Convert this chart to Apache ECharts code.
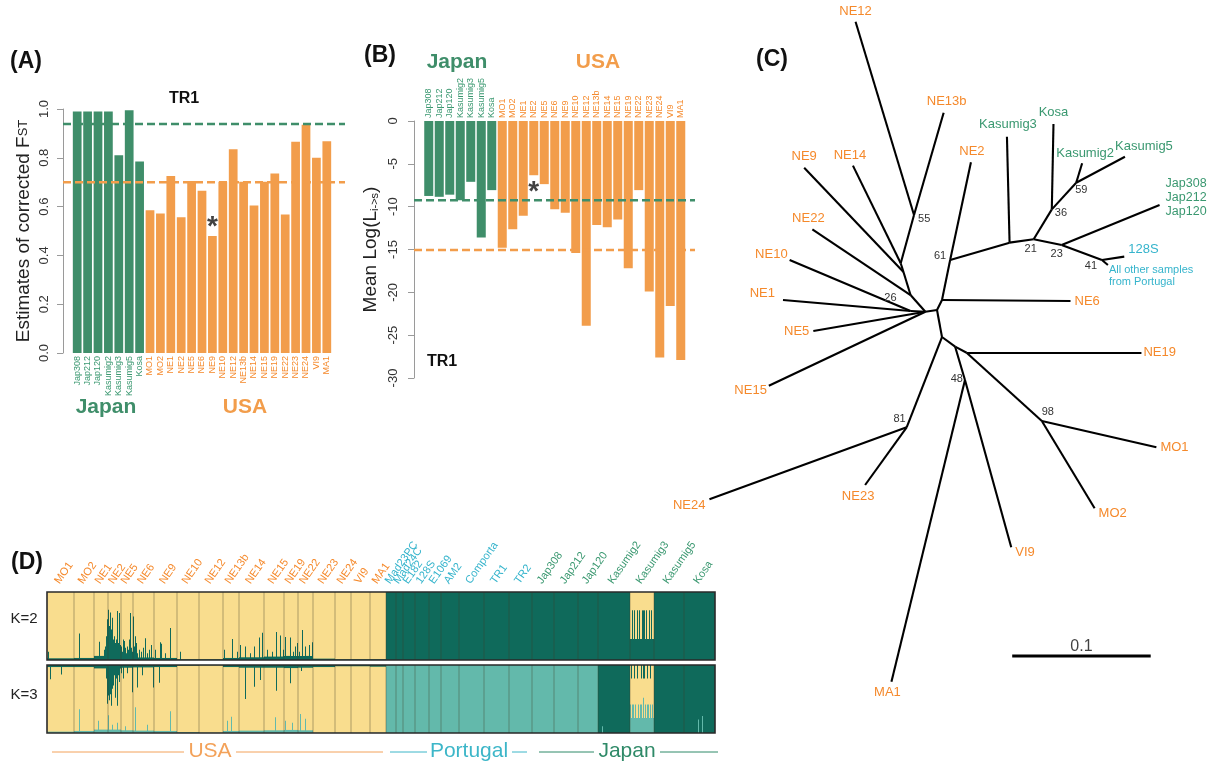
<!DOCTYPE html>
<html><head><meta charset="utf-8">
<script src="https://cdn.jsdelivr.net/npm/echarts@6/dist/echarts.min.js"></script>
<style>html,body{margin:0;padding:0;background:#fff}#c{width:1214px;height:762px}</style>
</head><body><div id="c"></div><script>
// ================= DATA =================
// Panels A & B: samples
const samples = ['Jap308','Jap212','Jap120','Kasumig2','Kasumig3','Kasumig5','Kosa','MO1','MO2','NE1','NE2','NE5','NE6','NE9','NE10','NE12','NE13b','NE14','NE15','NE19','NE22','NE23','NE24','VI9','MA1'];
const sampleRegion = ['Japan','Japan','Japan','Japan','Japan','Japan','Japan','USA','USA','USA','USA','USA','USA','USA','USA','USA','USA','USA','USA','USA','USA','USA','USA','USA','USA'];
const fstValues = [0.99,0.99,0.99,0.99,0.81,0.995,0.785,0.585,0.572,0.725,0.556,0.705,0.665,0.48,0.702,0.835,0.702,0.605,0.702,0.736,0.568,0.866,0.935,0.80,0.868];
const fstThreshold = {Japan:0.939, USA:0.70};
const fstStar = ['NE9', 0.54];
const logLValues = [-8.75,-8.85,-8.6,-9.25,-7.1,-13.6,-8.07,-14.8,-12.65,-11.05,-6.33,-7.37,-10.3,-10.7,-15.4,-23.9,-12.15,-12.4,-11.5,-17.2,-8.07,-19.9,-27.6,-21.6,-27.9];
const logLThreshold = {Japan:-9.24, USA:-15.06};
const logLStar = ['NE2', -7.67];
const fstTicks = [0,0.2,0.4,0.6,0.8,1.0];
const logLTicks = [0,-5,-10,-15,-20,-25,-30];

// Panel C: unrooted tree (node positions in branch-length units)
const treeNodes = [
 ['NE12',-0.0588,0.2059],['NE13b',0.0048,0.1409],['NE14',-0.0607,0.1031],['NE9',-0.0959,0.1016],
 ['NE22',-0.0900,0.0576],['NE10',-0.1064,0.0357],['NE1',-0.1112,0.0071],['NE5',-0.0893,-0.0150],
 ['NE15',-0.1214,-0.0541],['NE24',-0.1643,-0.1352],['NE23',-0.0519,-0.1250],['MA1',-0.0329,-0.2655],
 ['VI9',0.0536,-0.1695],['MO2',0.1138,-0.1416],['MO1',0.1584,-0.0981],['NE19',0.1476,-0.0305],
 ['NE6',0.0964,0.0064],['NE2',0.0245,0.1055],['Kasumig3',0.0505,0.1238],['Kosa',0.0841,0.1329],
 ['Kasumig2',0.1048,0.1048],['Kasumig5',0.1357,0.1095],['Jap',0.1607,0.0750],['128S',0.1352,0.0381],
 ['Portugal',0.1234,0.0321],
 ['n55',-0.0166,0.0679],['nA',-0.0262,0.0334],['nA2',-0.0242,0.0271],['nB',-0.0191,0.0107],
 ['n26',-0.0191,-0.0007],['nC',-0.0084,-0.0012],['nD',0,0],['nE',0.0036,0.0071],['n61',0.0095,0.0357],
 ['nK3',0.0524,0.0481],['n21',0.0698,0.0505],['n36',0.0829,0.0719],['n59',0.1005,0.0909],
 ['n23',0.0900,0.0464],['n41',0.1191,0.0357],['nF',0.0036,-0.0193],['nG',0.0131,-0.0262],
 ['nH',0.0214,-0.0305],['n98',0.0757,-0.0793],['n48',0.0202,-0.0500],['n81',-0.0219,-0.0838]
];
const treeEdges = [
 ['n55','NE12'],['n55','NE13b'],['nA','n55'],['nA','NE14'],['nA2','nA'],['nA2','NE9'],
 ['nB','nA2'],['nB','NE22'],['nC','nB'],['n26','NE10'],['n26','NE1'],['nC','n26'],['nC','NE5'],['nC','NE15'],
 ['nD','nC'],['nD','nE'],['nE','NE6'],['nE','n61'],['n61','NE2'],['n61','nK3'],['nK3','Kasumig3'],['nK3','n21'],
 ['n21','n36'],['n36','Kosa'],['n36','n59'],['n59','Kasumig2'],['n59','Kasumig5'],['n21','n23'],['n23','Jap'],
 ['n23','n41'],['n41','128S'],['n41','Portugal'],
 ['nD','nF'],['nF','n81'],['n81','NE24'],['n81','NE23'],['nF','nG'],['nG','nH'],['nH','NE19'],['nH','n98'],
 ['n98','MO1'],['n98','MO2'],['nG','n48'],['n48','MA1'],['n48','VI9']
];
const tipText = {NE12:'NE12',NE13b:'NE13b',NE14:'NE14',NE9:'NE9',NE22:'NE22',NE10:'NE10',NE1:'NE1',NE5:'NE5',NE15:'NE15',
 NE24:'NE24',NE23:'NE23',MA1:'MA1',VI9:'VI9',MO2:'MO2',MO1:'MO1',NE19:'NE19',NE6:'NE6',NE2:'NE2',
 Kasumig3:'Kasumig3',Kosa:'Kosa',Kasumig2:'Kasumig2',Kasumig5:'Kasumig5',Jap:'Jap308\nJap212\nJap120',
 '128S':'128S',Portugal:'All other samples\nfrom Portugal'};
const tipRegion = {Kasumig3:'Japan',Kosa:'Japan',Kasumig2:'Japan',Kasumig5:'Japan',Jap:'Japan','128S':'Portugal',Portugal:'Portugal'};
const bootstrap = {n55:55,n61:61,n26:26,n21:21,n23:23,n41:41,n36:36,n59:59,n48:48,n81:81,n98:98};
const scaleBar = {x:0.0543, y:-0.2471, length:0.1, text:'0.1'};

// Panel D: STRUCTURE populations
const popNames = ['MO1','MO2','NE1','NE2','NE5','NE6','NE9','NE10','NE12','NE13b','NE14','NE15','NE19','NE22','NE23','NE24','VI9','MA1',
 'Mad23PC','Mad24C','E182','128S','E1069','AM2','Comporta','TR1','TR2',
 'Jap308','Jap212','Jap120','Kasumig2','Kasumig3','Kasumig5','Kosa'];
const popRegion = ['USA','USA','USA','USA','USA','USA','USA','USA','USA','USA','USA','USA','USA','USA','USA','USA','USA','USA',
 'Portugal','Portugal','Portugal','Portugal','Portugal','Portugal','Portugal','Portugal','Portugal',
 'Japan','Japan','Japan','Japan','Japan','Japan','Japan'];
const popSizes = [27,20,14,13,12,21,23,22,24,16,25,20,14,15,22,16,19,16, 10,7,12,14,12,18,25,25,23, 22,24,20,32,24,30,31];
// K=2 : fraction of dark-green cluster (rest yellow)
const k2Dark = [0.025,0.03,0.06,0.05,0.04,0.035,0.03,0.01,0.01,0.03,0.04,0.05,0.06,0.06,0.02,0.01,0.01,0.01, 1,1,1,1,1,1,1,1,1, 1,1,1,1,0,1,1];
// K=3 : dark-green cluster (top) and light-teal cluster (bottom)
const k3Dark = [0.03,0.03,0.05,0.05,0.04,0.035,0.03,0.01,0.005,0.03,0.04,0.04,0.045,0.04,0.03,0.02,0.02,0.025, 0,0,0,0,0,0,0,0,0, 0,0,0,1,0,1,1];
const k3Teal = [0.02,0.03,0.05,0.05,0.04,0.035,0.03,0.015,0.005,0.03,0.035,0.04,0.045,0.04,0.005,0.005,0.005,0.005, 1,1,1,1,1,1,1,1,1, 1,1,1,0,0,0,0];
const kas3K2Dark = [0.31,0.31,0.73,0.31,0.73,0.31,0.31,0.73,0.31,0.73,0.31,0.31,0.73,0.73,0.73,0.31,0.73,0.31,0.31,0.73,0.31,0.73,0.31,0.31];
const kas3K3Dark = [0,0.2,0,0,0.2,0,0,0.2,0,0,0,0.2,0,0.2,0.2,0,0,0.2,0,0,0.2,0,0,0];
const kas3K3Teal = [0.42,0.22,0.42,0.42,0.22,0.42,0.22,0.22,0.42,0.22,0.42,0.42,0.22,0.52,0.22,0.42,0.22,0.42,0.42,0.22,0.42,0.22,0.42,0.22];
// individual spikes [individual index, fraction]
const k2Spikes = [[1,0.12],[32,0.39],[52,0.27],[57,0.15],[58,0.2],[59,0.35],[60,0.6],[61,0.74],[62,0.5],[63,0.7],[64,0.45],[65,0.62],[66,0.3],[67,0.35],[68,0.25],[69,0.3],[70,0.72],[71,0.25],[72,0.69],[73,0.22],[74,0.2],[75,0.12],[76,0.3],[77,0.28],[78,0.18],[79,0.1],[80,0.2],[81,0.15],[82,0.3],[83,0.69],[84,0.18],[85,0.12],[86,0.64],[87,0.2],[88,0.35],[89,0.25],[90,0.1],[92,0.15],[94,0.12],[96,0.18],[98,0.32],[100,0.1],[102,0.15],[104,0.22],[108,0.15],[113,0.26],[114,0.24],[118,0.1],[123,0.47],[133,0.12],[177,0.15],[185,0.31],[190,0.12],[193,0.22],[198,0.2],[203,0.1],[207,0.2],[212,0.33],[215,0.4],[220,0.15],[225,0.12],[229,0.41],[233,0.36],[236,0.15],[238,0.34],[243,0.33],[246,0.12],[248,0.2],[250,0.25],[252,0.12],[255,0.44],[258,0.2],[262,0.22],[265,0.26]];
const k3DarkSpikes = [[3,0.21],[14,0.14],[59,0.2],[60,0.57],[61,0.45],[62,0.52],[63,0.43],[64,0.6],[65,0.35],[66,0.3],[67,0.15],[68,0.48],[69,0.2],[70,0.6],[71,0.15],[72,0.25],[74,0.12],[76,0.2],[80,0.12],[85,0.4],[90,0.33],[95,0.15],[106,0.33],[112,0.26],[198,0.5],[207,0.32],[213,0.22],[229,0.38],[243,0.27],[254,0.09]];
const k3TealSpikes = [[32,0.35],[51,0.18],[61,0.26],[65,0.12],[70,0.15],[78,0.1],[88,0.38],[100,0.12],[123,0.32],[180,0.18],[184,0.24],[228,0.23],[238,0.18],[245,0.15],[253,0.28],[258,0.21],[555,0.1],[651,0.2],[655,0.25]];

// ================= STYLE =================
const FONT = '"Liberation Sans", Arial, Helvetica, sans-serif';
const GREEN = '#3f8e6a', ORANGE = '#f29d4b';
const regionLabel = {USA:'#f5892b', Japan:'#3a9870', Portugal:'#35b4cc'};
const palette = ['#f9dd8e','#0f6a5b','#63b9ab'];
const tipPlace = {
 NE12:['top',[0,1]], NE13b:['top',[3,0]], NE14:['top',[-3,1]], NE9:['top',[0,0]], NE22:['top',[-4,0]],
 NE10:['left',[2,-6]], NE1:['left',[-4,-7]], NE5:['left',[0,0]], NE15:['left',[2,5]], NE24:['left',[0,6]],
 NE23:['bottom',[-7,0]], MA1:['bottom',[-4,-1]], VI9:['right',[0,5]], MO2:['right',[0,5]], MO1:['right',[0,0]],
 NE19:['right',[-2,0]], NE6:['right',[0,0]], NE2:['top',[1,0]], Kasumig3:['top',[1,-1]], Kosa:['top',[0,0]],
 Kasumig2:['top',[3,1]], Kasumig5:['top',[19,1]], Jap:['right',[2,-7]], '128S':['right',[0,-7]], Portugal:['right',[-3,11]]
};
const tipFont = {Portugal:11, Jap:12.5};
const bootPlace = {n55:['right',[0,4]], n61:['left',[0,-4]], n26:['left',[-10,-13]], n21:['bottom',[-3,0]], n23:['bottom',[-5,-1]],
 n41:['bottom',[-11,-4]], n36:['right',[-1,4]], n59:['right',[-5,7]], n48:['left',[2,-1]], n81:['left',[3,-8]], n98:['top',[6,0]]};

// ================= BUILD =================
const chart = echarts.init(document.getElementById('c'), null, {renderer:'canvas'});
const barColor = i => sampleRegion[i]==='Japan' ? GREEN : ORANGE;
const labColor = (v,i) => regionLabel[sampleRegion[i]];

const graphData = treeNodes.map(([n,x,y]) => {
  const item = {name:n, value:[x,y]};
  if (tipText[n]) {
    const pl = tipPlace[n];
    const fs = tipFont[n] || 13;
    item.label = {show:true, formatter: tipText[n], position: pl[0], offset: pl[1], distance: 4,
      color: regionLabel[tipRegion[n]||'USA'], fontSize: fs, lineHeight: fs+1.5, fontFamily: FONT};
  } else if (bootstrap[n] !== undefined) {
    const pl = bootPlace[n];
    item.label = {show:true, formatter: String(bootstrap[n]), position: pl[0], offset: pl[1], distance: 4,
      color:'#333', fontSize: 11, fontFamily: FONT};
  }
  return item;
});
const graphLinks = treeEdges.map(([s,t]) => ({source:s, target:t}));

const N = popSizes.reduce((a,b)=>a+b,0);
const starts = []; { let a=0; popSizes.forEach(s=>{starts.push(a); a+=s;}); }
const k2D=[], k3D=[], k3T=[];
popNames.forEach((p,pi)=>{
  for (let j=0;j<popSizes[pi];j++){
    if (p==='Kasumig3'){ k2D.push(kas3K2Dark[j]); k3D.push(kas3K3Dark[j]); k3T.push(kas3K3Teal[j]); }
    else { k2D.push(k2Dark[pi]); k3D.push(k3Dark[pi]); k3T.push(k3Teal[pi]); }
  }
});
k2Spikes.forEach(([i,v])=>{ k2D[i]=Math.max(k2D[i],v); });
k3DarkSpikes.forEach(([i,v])=>{ k3D[i]=Math.max(k3D[i],v); });
k3TealSpikes.forEach(([i,v])=>{ k3T[i]=Math.max(k3T[i],v); });
function runs(arr, fromTop, ci){
  const out=[]; let s=0;
  for (let i=1;i<=arr.length;i++){
    if (i===arr.length || arr[i]!==arr[s]){
      const v=arr[s];
      if (v>0) out.push(fromTop ? [s,i,1-v,1,ci] : [s,i,0,v,ci]);
      s=i;
    }
  }
  return out;
}
const k2Rects = [[0,N,0,1,0]].concat(runs(k2D,false,1));
const k3Rects = [[0,N,0,1,0]].concat(runs(k3D,true,1), runs(k3T,false,2));
const boundaries = starts.slice(1).map(s=>[s,0]);
const popCenters = popNames.map((p,i)=>[starts[i]+popSizes[i]/2, 1]);

function rectRender(params, api){
  const a = api.coord([api.value(0), api.value(3)]);
  const b = api.coord([api.value(1), api.value(2)]);
  return {type:'rect', shape:{x:a[0], y:a[1], width:b[0]-a[0], height:b[1]-a[1]}, style:{fill: palette[api.value(4)]}};
}
function sepRender(params, api){
  const a = api.coord([api.value(0), 0]), b = api.coord([api.value(0), 1]);
  return {type:'line', shape:{x1:a[0], y1:a[1], x2:b[0], y2:b[1]}, style:{stroke:'rgba(60,60,40,0.4)', lineWidth:1}};
}
function frameRender(params, api){
  const a = api.coord([0,1]), b = api.coord([N,0]);
  return {type:'rect', shape:{x:a[0], y:a[1], width:b[0]-a[0], height:b[1]-a[1]}, style:{fill:'none', stroke:'#2a2a2a', lineWidth:1.6}};
}
function popLabelRender(params, api){
  const i = params.dataIndex;
  const p = api.coord([api.value(0), 1]);
  return {type:'text', x:p[0]+1, y:p[1]-6, rotation: 55*Math.PI/180,
    style:{text: popNames[i], fill: regionLabel[popRegion[i]], fontSize: 11, fontFamily: FONT, align:'left', verticalAlign:'bottom'}};
}

const txt = (x,y,t,size,color,weight) => ({type:'text', x, y, style:{text:t, fill:color||'#111', font:`${weight||'normal'} ${size}px ${FONT}`, align:'center', verticalAlign:'middle'}});
const hline = (x1,x2,y,color) => ({type:'line', shape:{x1,y1:y,x2,y2:y}, style:{stroke:color, lineWidth:1}});

const option = {
  animation:false,
  textStyle:{fontFamily:FONT},
  grid:[
    {left:72, top:109, width:260, height:244},
    {left:63, top:109, width:282, height:244},
    {left:423.5, top:121, width:262.5, height:257},
    {left:414, top:121, width:281, height:257},
    {left:660, top:2, width:560, height:700},
    {left:47, top:592, width:668, height:68},
    {left:47, top:665, width:668, height:68}
  ],
  xAxis:[
    {gridIndex:0, type:'category', data:samples, axisLine:{show:false}, axisTick:{show:false},
     axisLabel:{interval:0, rotate:90, fontSize:9, margin:3, color:labColor}},
    {gridIndex:1, type:'value', min:0, max:1, show:false},
    {gridIndex:2, type:'category', position:'top', data:samples, axisLine:{show:false}, axisTick:{show:false},
     axisLabel:{interval:0, rotate:90, fontSize:9, margin:3, color:labColor}},
    {gridIndex:3, type:'value', min:0, max:1, show:false},
    {gridIndex:4, type:'value', min:-0.2, max:0.2, show:false},
    {gridIndex:5, type:'value', min:0, max:N, show:false},
    {gridIndex:6, type:'value', min:0, max:N, show:false}
  ],
  yAxis:[
    {gridIndex:0, type:'value', min:fstTicks[0], max:fstTicks[fstTicks.length-1], interval:0.2, offset:9,
     axisLine:{show:true, lineStyle:{color:'#9a9a9a'}}, axisTick:{show:true, length:6, lineStyle:{color:'#9a9a9a'}},
     splitLine:{show:false}, axisLabel:{rotate:90, fontSize:13, color:'#333', margin:12, formatter:v=>v.toFixed(1)},
     name:'Estimates of corrected F{s|ST}', nameLocation:'middle', nameGap:30, nameRotate:90,
     nameTextStyle:{fontSize:19, color:'#222', rich:{s:{fontSize:13, color:'#222'}}}},
    {gridIndex:1, type:'value', min:0, max:1, show:false},
    {gridIndex:2, type:'value', min:logLTicks[logLTicks.length-1], max:logLTicks[0], interval:5, offset:9.5,
     axisLine:{show:true, lineStyle:{color:'#9a9a9a'}}, axisTick:{show:true, length:6, lineStyle:{color:'#9a9a9a'}},
     splitLine:{show:false}, axisLabel:{rotate:90, fontSize:13, color:'#333', margin:14},
     name:'Mean Log(L{s|i->s})', nameLocation:'middle', nameGap:34, nameRotate:90,
     nameTextStyle:{fontSize:19, color:'#222', rich:{s:{fontSize:11, color:'#222', padding:[8,0,0,0]}}}},
    {gridIndex:3, type:'value', min:-30, max:0, show:false},
    {gridIndex:4, type:'value', min:-0.28, max:0.22, show:false},
    {gridIndex:5, type:'value', min:0, max:1, show:false},
    {gridIndex:6, type:'value', min:0, max:1, show:false}
  ],
  series:[
    {type:'bar', xAxisIndex:0, yAxisIndex:0, barCategoryGap:'16%', silent:true,
     data: fstValues.map((v,i)=>({value:v, itemStyle:{color:barColor(i)}}))},
    {type:'scatter', xAxisIndex:0, yAxisIndex:0, symbolSize:0, silent:true, data:[fstStar],
     label:{show:true, formatter:'*', fontSize:28, fontWeight:'bold', color:'#111', position:'inside', offset:[0,6]}},
    {type:'line', xAxisIndex:1, yAxisIndex:1, symbol:'none', silent:true, z:5, data:[[0,fstThreshold.Japan],[1,fstThreshold.Japan]],
     lineStyle:{color:GREEN, width:2.5, type:[8,4]}},
    {type:'line', xAxisIndex:1, yAxisIndex:1, symbol:'none', silent:true, z:5, data:[[0,fstThreshold.USA],[1,fstThreshold.USA]],
     lineStyle:{color:ORANGE, width:2.5, type:[8,4]}},
    {type:'bar', xAxisIndex:2, yAxisIndex:2, barCategoryGap:'14%', silent:true,
     data: logLValues.map((v,i)=>({value:v, itemStyle:{color:barColor(i)}}))},
    {type:'scatter', xAxisIndex:2, yAxisIndex:2, symbolSize:0, silent:true, data:[logLStar],
     label:{show:true, formatter:'*', fontSize:28, fontWeight:'bold', color:'#111', position:'inside', offset:[0,6]}},
    {type:'line', xAxisIndex:3, yAxisIndex:3, symbol:'none', silent:true, z:5, data:[[0,logLThreshold.Japan],[1,logLThreshold.Japan]],
     lineStyle:{color:GREEN, width:2.5, type:[8,4]}},
    {type:'line', xAxisIndex:3, yAxisIndex:3, symbol:'none', silent:true, z:5, data:[[0,logLThreshold.USA],[1,logLThreshold.USA]],
     lineStyle:{color:ORANGE, width:2.5, type:[8,4]}},
    {type:'graph', coordinateSystem:'cartesian2d', xAxisIndex:4, yAxisIndex:4, layout:'none', silent:true,
     symbolSize:0, data:graphData, links:graphLinks, edgeSymbol:['none','none'],
     lineStyle:{color:'#000', width:2.1, opacity:1, curveness:0}},
    {type:'line', xAxisIndex:4, yAxisIndex:4, symbol:'none', silent:true,
     data:[[scaleBar.x, scaleBar.y],[scaleBar.x+scaleBar.length, scaleBar.y]], lineStyle:{color:'#000', width:3}},
    {type:'scatter', xAxisIndex:4, yAxisIndex:4, symbolSize:0, silent:true,
     data:[[scaleBar.x+scaleBar.length/2, scaleBar.y]],
     label:{show:true, formatter:scaleBar.text, position:'top', distance:1, fontSize:16, color:'#111'}},
    {type:'custom', xAxisIndex:5, yAxisIndex:5, silent:true, renderItem:rectRender, data:k2Rects, encode:{x:[0,1], y:[2,3]}},
    {type:'custom', xAxisIndex:5, yAxisIndex:5, silent:true, renderItem:sepRender, data:boundaries, z:3},
    {type:'custom', xAxisIndex:5, yAxisIndex:5, silent:true, renderItem:frameRender, data:[[0,0]], z:4},
    {type:'custom', xAxisIndex:5, yAxisIndex:5, silent:true, renderItem:popLabelRender, data:popCenters, clip:false, z:4},
    {type:'custom', xAxisIndex:6, yAxisIndex:6, silent:true, renderItem:rectRender, data:k3Rects, encode:{x:[0,1], y:[2,3]}},
    {type:'custom', xAxisIndex:6, yAxisIndex:6, silent:true, renderItem:sepRender, data:boundaries, z:3},
    {type:'custom', xAxisIndex:6, yAxisIndex:6, silent:true, renderItem:frameRender, data:[[0,0]], z:4}
  ],
  graphic:[
    txt(26,62,'(A)',23,'#111','bold'), txt(380,56,'(B)',23,'#111','bold'), txt(772,60,'(C)',23,'#111','bold'), txt(27,563,'(D)',23,'#111','bold'),
    txt(184,99,'TR1',16,'#111','bold'), txt(442,362,'TR1',16,'#111','bold'),
    txt(106,407,'Japan',21,GREEN,'bold'), txt(245,407,'USA',21,ORANGE,'bold'),
    txt(457,62,'Japan',21,GREEN,'bold'), txt(598,62,'USA',21,ORANGE,'bold'),
    txt(24,619,'K=2',15,'#222'), txt(24,695,'K=3',15,'#222'),
    txt(210,751,'USA',21,'#f3a25a'), txt(469,751,'Portugal',21,'#3cb6c8'), txt(627,751,'Japan',21,'#2f8a68'),
    hline(52,184,752,'#f3a25a'), hline(236,383,752,'#f3a25a'),
    hline(390,427,752,'#3cb6c8'), hline(512,527,752,'#3cb6c8'),
    hline(539,594,752,'#2f8a68'), hline(660,718,752,'#2f8a68')
  ]
};
chart.setOption(option);
</script></body></html>
